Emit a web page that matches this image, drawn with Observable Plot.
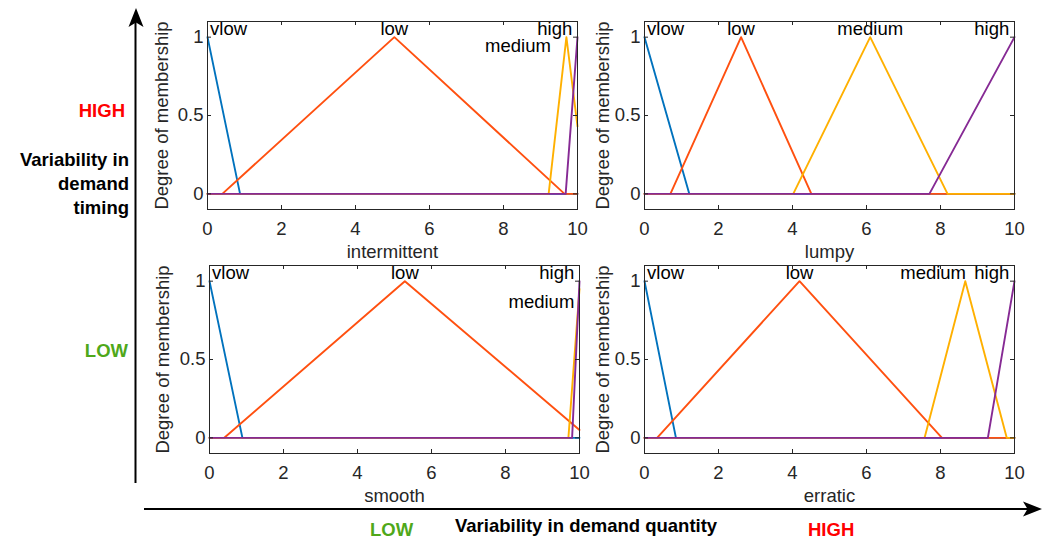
<!DOCTYPE html>
<html><head><meta charset="utf-8">
<script src="https://cdn.jsdelivr.net/npm/d3@7"></script>
<script src="https://cdn.jsdelivr.net/npm/@observablehq/plot@0.6"></script>
<style>
html,body{margin:0;padding:0;background:#fff;}
#root{position:relative;width:1050px;height:539px;overflow:hidden;font-family:Arial,"Liberation Sans",sans-serif;}
.panel{position:absolute;}
#overlay{position:absolute;left:0;top:0;}
</style></head><body><div id="root"></div>
<script>
// ---- data ----
const mfNames = ["vlow", "low", "medium", "high"];
const mfColors = ["#0072BD", "#FF5010", "#FFB000", "#862A94"];
const xTicks = [0, 2, 4, 6, 8, 10];
const yTicks = [0, 0.5, 1];
const panelTitles = ["intermittent", "lumpy", "smooth", "erratic"];

// membership function breakpoints: [mf, x, degree]
const intermittentPts = [
  ["vlow", 0, 1], ["vlow", 0.88, 0], ["vlow", 10, 0],
  ["low", 0, 0], ["low", 0.4, 0], ["low", 5.05, 1], ["low", 9.65, 0], ["low", 10, 0],
  ["medium", 0, 0], ["medium", 9.22, 0], ["medium", 9.7, 1], ["medium", 10, 0.43],
  ["high", 0, 0], ["high", 9.68, 0], ["high", 10, 1]
];
const lumpyPts = [
  ["vlow", 0, 1], ["vlow", 1.21, 0], ["vlow", 10, 0],
  ["low", 0, 0], ["low", 0.7, 0], ["low", 2.61, 1], ["low", 4.51, 0], ["low", 10, 0],
  ["medium", 0, 0], ["medium", 4.02, 0], ["medium", 6.1, 1], ["medium", 8.19, 0], ["medium", 10, 0],
  ["high", 0, 0], ["high", 7.7, 0], ["high", 10, 1]
];
const smoothPts = [
  ["vlow", 0, 1], ["vlow", 0.89, 0], ["vlow", 10, 0],
  ["low", 0, 0], ["low", 0.4, 0], ["low", 5.28, 1], ["low", 10, 0.05],
  ["medium", 0, 0], ["medium", 9.7, 0], ["medium", 10, 0.95],
  ["high", 0, 0], ["high", 9.8, 0], ["high", 10, 1]
];
const erraticPts = [
  ["vlow", 0, 1], ["vlow", 0.85, 0], ["vlow", 10, 0],
  ["low", 0, 0], ["low", 0.34, 0], ["low", 4.19, 1], ["low", 8.04, 0], ["low", 10, 0],
  ["medium", 0, 0], ["medium", 7.57, 0], ["medium", 8.67, 1], ["medium", 9.79, 0], ["medium", 10, 0],
  ["high", 0, 0], ["high", 9.28, 0], ["high", 10, 1]
];

// label placement: [text, x, degree, anchor]
const intermittentLabels = [["vlow", 0.07, 1.015, "start"], ["low", 5.05, 1.015, "middle"], ["high", 9.86, 1.015, "end"], ["medium", 9.28, 0.905, "end"]];
const lumpyLabels = [["vlow", 0.07, 1.015, "start"], ["low", 2.61, 1.015, "middle"], ["medium", 6.1, 1.015, "middle"], ["high", 9.86, 1.015, "end"]];
const smoothLabels = [["vlow", 0.07, 1.015, "start"], ["low", 5.28, 1.015, "middle"], ["high", 9.86, 1.015, "end"], ["medium", 9.86, 0.83, "end"]];
const erraticLabels = [["vlow", 0.07, 1.015, "start"], ["low", 4.19, 1.015, "middle"], ["medium", 8.69, 1.015, "end"], ["high", 9.86, 1.015, "end"]];

// ---- layout ----
const FW = 370, FH = 188;
const mL = 60, mR = 10, mT = 20, mB = 62;
const panels = [
  {pts: intermittentPts, labels: intermittentLabels, title: panelTitles[0], left: 207, top: 21, ylab: -45},
  {pts: lumpyPts, labels: lumpyLabels, title: panelTitles[1], left: 644, top: 21, ylab: -41},
  {pts: smoothPts, labels: smoothLabels, title: panelTitles[2], left: 209, top: 265, ylab: -46},
  {pts: erraticPts, labels: erraticLabels, title: panelTitles[3], left: 644, top: 265, ylab: -41}
];
const ink = "#262626";
const root = document.getElementById("root");

for (const p of panels) {
  const data = p.pts.map(([mf, x, y]) => ({mf, x, y}));
  const lab = p.labels.map(([text, x, y, anchor]) => ({text, x, y, anchor}));
  const chart = Plot.plot({
    width: FW + mL + mR, height: FH + mT + mB,
    marginLeft: mL, marginRight: mR, marginTop: mT, marginBottom: mB,
    x: {domain: [0, 10]},
    y: {domain: [-0.1, 1.1]},
    color: {domain: mfNames, range: mfColors},
    style: {fontFamily: 'Arial, "Liberation Sans", sans-serif', fontSize: "18.5px", color: ink, background: "transparent", overflow: "visible"},
    marks: [
      Plot.line(data, {x: "x", y: "y", stroke: "mf", strokeWidth: 1.9}),
      Plot.frame({stroke: ink, strokeWidth: 1}),
      Plot.tickX(xTicks, {x: d => d, insetTop: FH - 4, stroke: ink}),
      Plot.tickX(xTicks, {x: d => d, insetBottom: FH - 4, stroke: ink}),
      Plot.tickY(yTicks, {y: d => d, insetRight: FW - 4, stroke: ink}),
      Plot.tickY(yTicks, {y: d => d, insetLeft: FW - 4, stroke: ink}),
      Plot.axisX({ticks: xTicks, tickSize: 0, tickPadding: 12, label: null, fill: ink, tickFormat: d => String(d)}),
      Plot.axisY({ticks: yTicks, tickSize: 0, tickPadding: 4, label: null, fill: ink, tickFormat: d => String(d)}),
      Plot.text([p.title], {frameAnchor: "bottom", lineAnchor: "bottom", dy: 48, text: d => d, fill: ink}),
      Plot.text(["Degree of membership"], {frameAnchor: "left", textAnchor: "middle", lineAnchor: "middle", rotate: -90, dx: p.ylab, text: d => d, fill: ink}),
      ...["start", "middle", "end"].map(a =>
        Plot.text(lab.filter(d => d.anchor === a), {x: "x", y: "y", text: "text", textAnchor: a, lineAnchor: "bottom", fill: "black"}))
    ]
  });
  const div = document.createElement("div");
  div.className = "panel";
  div.style.left = (p.left - mL) + "px";
  div.style.top = (p.top - mT) + "px";
  div.appendChild(chart);
  root.appendChild(div);
}

// ---- outer annotations (arrows and quadrant labels) ----
const ns = "http://www.w3.org/2000/svg";
const ov = document.createElementNS(ns, "svg");
ov.setAttribute("id", "overlay");
ov.setAttribute("width", 1050);
ov.setAttribute("height", 539);
ov.innerHTML = `
  <line x1="135.5" y1="483" x2="135.5" y2="20" stroke="#000" stroke-width="2"/>
  <path d="M136,8 L143.5,27 L136,22.5 L128.5,27 Z" fill="#000"/>
  <line x1="144" y1="509" x2="1030" y2="509" stroke="#000" stroke-width="2"/>
  <path d="M1042,509 L1023,501.5 L1027.5,509 L1023,516.5 Z" fill="#000"/>
  <g font-family='Arial, "Liberation Sans", sans-serif' font-weight="bold" font-size="18.5">
    <text x="125" y="117" text-anchor="end" fill="#FF0000">HIGH</text>
    <text x="129" y="166" text-anchor="end" fill="#000">Variability in</text>
    <text x="129" y="190" text-anchor="end" fill="#000">demand</text>
    <text x="129" y="214" text-anchor="end" fill="#000">timing</text>
    <text x="128" y="357" text-anchor="end" fill="#4FA81A">LOW</text>
    <text x="370" y="536" fill="#4FA81A">LOW</text>
    <text x="455" y="532" fill="#000">Variability in demand quantity</text>
    <text x="808" y="536" fill="#FF0000">HIGH</text>
  </g>`;
root.appendChild(ov);
</script>
</body></html>
